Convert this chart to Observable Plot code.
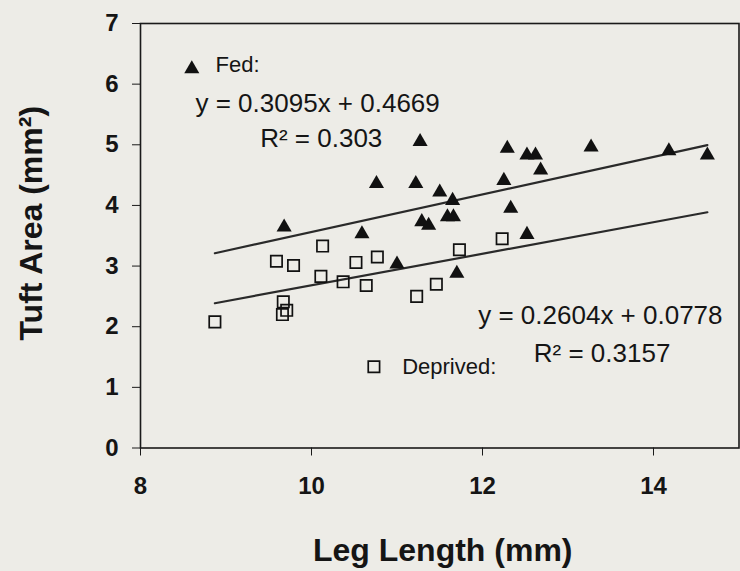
<!DOCTYPE html>
<html>
<head>
<meta charset="utf-8">
<script src="https://cdn.jsdelivr.net/npm/d3@7"></script>
<script src="https://cdn.jsdelivr.net/npm/@observablehq/plot@0.6"></script>
<style>
  html, body { margin: 0; padding: 0; background: #edece7; }
</style>
</head>
<body>
<div id="chart"></div>
<script>
// Fed (triangles)
const fedX = [9.68, 10.59, 10.76, 11.00, 11.22, 11.27, 11.29, 11.37, 11.50, 11.59, 11.66, 11.65, 11.70, 12.25, 12.29, 12.33, 12.52, 12.52, 12.62, 12.68, 13.27, 14.18, 14.63];
const fedY = [3.64, 3.53, 4.36, 3.03, 4.36, 5.05, 3.73, 3.67, 4.22, 3.81, 3.81, 4.08, 2.88, 4.41, 4.94, 3.95, 3.52, 4.83, 4.83, 4.58, 4.96, 4.90, 4.83];
// Deprived (open squares)
const depX = [8.87, 9.59, 9.66, 9.67, 9.71, 9.79, 10.11, 10.13, 10.37, 10.52, 10.64, 10.77, 11.23, 11.46, 11.73, 12.23];
const depY = [2.08, 3.08, 2.20, 2.41, 2.27, 3.01, 2.83, 3.33, 2.74, 3.06, 2.68, 3.15, 2.50, 2.70, 3.27, 3.45];
// Regression fits: slope, intercept
const fedFit = {slope: 0.3095, intercept: 0.4669};
const depFit = {slope: 0.2604, intercept: 0.0778};
const fitRange = [8.87, 14.63];
const xTicks = [8, 10, 12, 14];
const yTicks = [0, 1, 2, 3, 4, 5, 6, 7];
const labels = {
  fed: "Fed:", deprived: "Deprived:",
  fedEq: "y = 0.3095x + 0.4669", fedR2: "R² = 0.303",
  depEq: "y = 0.2604x + 0.0778", depR2: "R² = 0.3157",
  xTitle: "Leg Length (mm)", yTitle: "Tuft Area (mm²)"
};

const fed = fedX.map((x, i) => ({x, y: fedY[i]}));
const dep = depX.map((x, i) => ({x, y: depY[i]}));
const fitLine = (f) => fitRange.map(x => ({x, y: f.slope * x + f.intercept}));

const FONT = "'Liberation Sans', Arial, Helvetica, sans-serif";
const INK = "#151515";

const chart = Plot.plot({
  width: 740,
  height: 571,
  marginLeft: 140,
  marginRight: 1.5,
  marginTop: 23,
  marginBottom: 123.5,
  x: {domain: [8, 15]},
  y: {domain: [0, 7]},
  style: {background: "#edece7", fontFamily: FONT, color: INK},
  marks: [
    Plot.frame({stroke: "#1a1a1a", strokeWidth: 1.6}),
    Plot.axisX({ticks: xTicks, tickFormat: d => String(d), tickSize: 8, tickPadding: 21, fontSize: 24, fontWeight: "bold", label: null, stroke: "#1a1a1a"}),
    Plot.axisY({ticks: yTicks, tickFormat: d => String(d), tickSize: 8, tickPadding: 14, fontSize: 24, fontWeight: "bold", label: null, stroke: "#1a1a1a"}),
    Plot.line(fitLine(fedFit), {x: "x", y: "y", stroke: "#2a2a2a", strokeWidth: 2.2}),
    Plot.line(fitLine(depFit), {x: "x", y: "y", stroke: "#2a2a2a", strokeWidth: 2.2}),
    Plot.dot(dep, {x: "x", y: "y", symbol: "square", r: 6.4, fill: "none", stroke: "#111", strokeWidth: 1.7}),
    Plot.dot(fed, {x: "x", y: "y", symbol: "triangle", r: 5.6, fill: "#111", stroke: "none"}),
    // legend / annotation
    Plot.dot([{x: 8.60, y: 6.25}], {x: "x", y: "y", symbol: "triangle", r: 5.6, fill: "#111"}),
    Plot.text([labels.fed], {x: 8.877, y: 6.31, text: d => d, textAnchor: "start", fontSize: 22, fill: INK}),
    Plot.text([labels.fedEq], {x: 8.643, y: 5.67, text: d => d, textAnchor: "start", fontSize: 26, fill: INK}),
    Plot.text([labels.fedR2], {x: 9.40, y: 5.10, text: d => d, textAnchor: "start", fontSize: 26, fill: INK}),
    Plot.text([labels.depEq], {x: 11.95, y: 2.19, text: d => d, textAnchor: "start", fontSize: 26, fill: INK}),
    Plot.text([labels.depR2], {x: 12.60, y: 1.55, text: d => d, textAnchor: "start", fontSize: 26, fill: INK}),
    Plot.dot([{x: 10.73, y: 1.34}], {x: "x", y: "y", symbol: "square", r: 6.4, fill: "none", stroke: "#111", strokeWidth: 1.7}),
    Plot.text([labels.deprived], {x: 11.06, y: 1.34, text: d => d, textAnchor: "start", fontSize: 22, fill: INK}),
    // axis titles
    Plot.text([labels.yTitle], {frameAnchor: "left", dx: -109, dy: -12.5, rotate: -90, text: d => d, textAnchor: "middle", fontSize: 32, fontWeight: "bold", fill: INK}),
    Plot.text([labels.xTitle], {frameAnchor: "bottom", dx: 3, dy: 113, text: d => d, textAnchor: "middle", fontSize: 32, fontWeight: "bold", fill: INK})
  ]
});
document.getElementById("chart").appendChild(chart);
</script>
</body>
</html>
